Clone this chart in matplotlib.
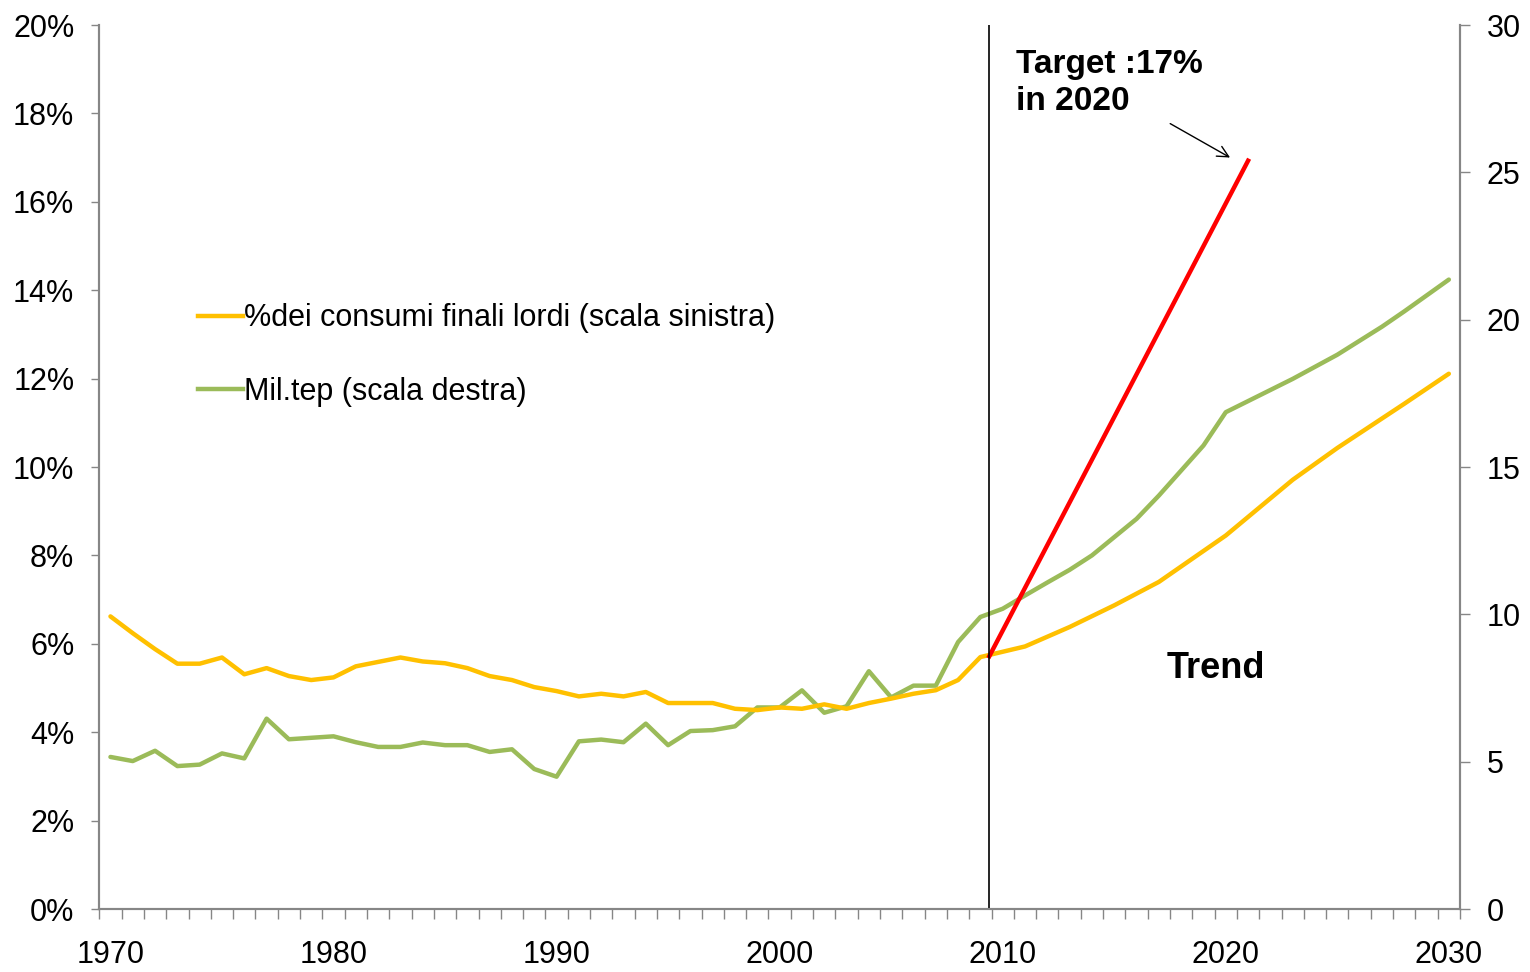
import matplotlib
matplotlib.use("Agg")
import matplotlib.pyplot as plt
from matplotlib.lines import Line2D
from matplotlib.ticker import FuncFormatter, MultipleLocator
import numpy as np

plt.rcParams['font.family'] = ['Liberation Sans', 'DejaVu Sans']

# % dei consumi finali lordi (left axis)
years_pct = list(range(1970, 2010)) + [2011, 2013, 2015, 2017, 2020, 2023, 2025, 2028, 2030]
pct = [6.62, 6.24, 5.88, 5.55, 5.55, 5.69, 5.31, 5.45, 5.27, 5.18,
       5.24, 5.49, 5.59, 5.69, 5.60, 5.56, 5.45, 5.27, 5.18, 5.02,
       4.93, 4.81, 4.87, 4.81, 4.91, 4.66, 4.66, 4.66, 4.53, 4.50,
       4.56, 4.53, 4.63, 4.53, 4.66, 4.76, 4.87, 4.95, 5.18, 5.70,
       5.94, 6.38, 6.87, 7.40, 8.45, 9.71, 10.43, 11.43, 12.11]

# Mil.tep (right axis)
years_mtep = list(range(1970, 2021)) + [2023, 2025, 2027, 2028, 2030]
mtep = [5.16, 5.02, 5.37, 4.85, 4.90, 5.28, 5.11, 6.46, 5.76, 5.81,
        5.86, 5.66, 5.50, 5.50, 5.65, 5.56, 5.56, 5.33, 5.42, 4.75,
        4.49, 5.69, 5.75, 5.66, 6.29, 5.56, 6.04, 6.07, 6.20, 6.84,
        6.84, 7.42, 6.66, 6.88, 8.07, 7.18, 7.58, 7.58, 9.06, 9.91,
        10.19, 10.64, 11.08, 11.51, 12.00, 12.62, 13.24, 14.03, 14.88, 15.73,
        16.86, 17.99, 18.81, 19.76, 20.28, 21.36]

# target line
target_x = [2009.4, 2021.0]
target_y = [5.72, 16.93]
split_year = 2009.4

lbl_pct = "%dei consumi finali lordi (scala sinistra)"
lbl_mtep = "Mil.tep (scala destra)"

yellow = "#FFC000"
green = "#9BBB59"
grey = "#868686"

fig = plt.figure(figsize=(15.3, 9.72), dpi=100)
ax = fig.add_axes([99.3 / 1530, 63 / 972, (1460 - 99.3) / 1530, (908 - 24) / 972])
ax2 = ax.twinx()
ax.set_zorder(ax2.get_zorder() + 1)
ax.patch.set_visible(False)

ax2.plot(years_mtep, mtep, color=green, lw=3.2, solid_joinstyle='round', solid_capstyle='round')
ax.plot(years_pct, pct, color=yellow, lw=3.2, solid_joinstyle='round', solid_capstyle='round')
ax.plot(target_x, target_y, color="#FF0000", lw=3.2)
ax.axvline(split_year, color="black", lw=1.2)

ax.set_xlim(1969.5, 2030.5)
ax.set_ylim(0, 20)
ax2.set_ylim(0, 30)

ax.set_xticks(np.arange(1970, 2031, 10))
ax.set_xticks(np.arange(1969.5, 2031, 1), minor=True)
ax.tick_params(axis='x', which='major', length=0, pad=22, labelsize=22)
ax.tick_params(axis='x', which='minor', length=7, width=1, color=grey, direction='out')

ax.yaxis.set_major_locator(MultipleLocator(2))
ax.yaxis.set_major_formatter(FuncFormatter(lambda v, p: "%d%%" % v))
ax.tick_params(axis='y', length=6, width=1, color=grey, pad=12, labelsize=22)
ax2.yaxis.set_major_locator(MultipleLocator(5))
ax2.tick_params(axis='y', length=7, width=1, color=grey, pad=12, labelsize=22)

for a in (ax, ax2):
    a.spines['top'].set_visible(False)
    for s in ('left', 'right', 'bottom'):
        a.spines[s].set_color(grey)
        a.spines[s].set_linewidth(1.5)

ax.text(2010.6, 19.45, "Target :17%\nin 2020", fontsize=24, fontweight='bold',
        va='top', ha='left', linespacing=1.25)
ax.annotate("", xy=(2020.3, 16.97), xytext=(2017.4, 17.8),
            arrowprops=dict(arrowstyle='->', color='black', lw=1.0, mutation_scale=20))
ax.text(2017.35, 5.45, "Trend", fontsize=26, fontweight='bold', va='center', ha='left')

handles = [Line2D([], [], color=yellow, lw=3.2), Line2D([], [], color=green, lw=3.2)]
ax.legend(handles, [lbl_pct, lbl_mtep], loc='upper left', bbox_to_anchor=(186 / 1530, 1 - 291 / 972),
          bbox_transform=fig.transFigure, frameon=False, fontsize=22, handlelength=1.45,
          handletextpad=0.05, labelspacing=1.42, borderaxespad=0)

fig.savefig("out.png", dpi=100)
